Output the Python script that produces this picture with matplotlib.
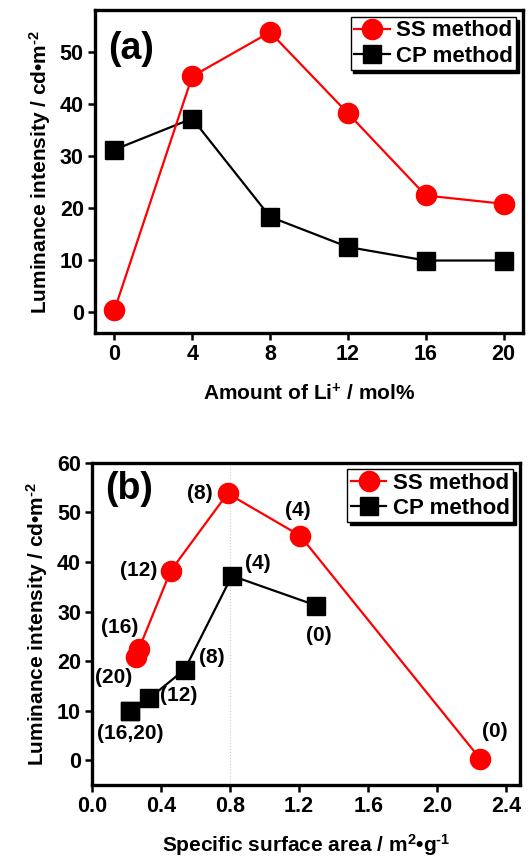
import matplotlib
matplotlib.use('Agg')
import matplotlib.pyplot as plt

plt.rcParams['font.family'] = ['Liberation Sans', 'DejaVu Sans']
plt.rcParams['font.weight'] = 'bold'
plt.rcParams['axes.labelweight'] = 'bold'
plt.rcParams['mathtext.fontset'] = 'custom'
plt.rcParams['mathtext.rm'] = 'Liberation Sans:bold'
plt.rcParams['mathtext.it'] = 'Liberation Sans:bold'
plt.rcParams['mathtext.bf'] = 'Liberation Sans:bold'
plt.rcParams['mathtext.default'] = 'bf'

# ---- data ----
li_amount = [0, 4, 8, 12, 16, 20]
ss_lum = [0.3, 45.3, 53.8, 38.2, 22.4, 20.8]
cp_lum = [31.2, 37.2, 18.3, 12.5, 9.9, 9.9]
ss_area = [2.25, 1.205, 0.785, 0.455, 0.27, 0.253]
cp_area = [1.30, 0.81, 0.536, 0.33, 0.22, 0.22]
ss_point_labels = ['(0)', '(4)', '(8)', '(12)', '(16)', '(20)']
cp_point_labels = ['(0)', '(4)', '(8)', '(12)', '(16,20)', '']
x_ticks_a = [0, 4, 8, 12, 16, 20]
y_ticks_a = [0, 10, 20, 30, 40, 50]
x_ticks_b = [0.0, 0.4, 0.8, 1.2, 1.6, 2.0, 2.4]
y_ticks_b = [0, 10, 20, 30, 40, 50, 60]

# label offsets (pixels)
ss_offsets = [(15, 27), (-2, 25), (-28, 0), (-32, 0), (-19, 22), (-22, -20)]
cp_offsets = [(2, -30), (26, 12), (27, 12), (30, 3), (0, -22), (0, 0)]

fig = plt.figure(figsize=(5.3, 8.6), dpi=100)
ax1 = fig.add_axes([0.179, 0.613, 0.808, 0.375])
ax2 = fig.add_axes([0.174, 0.087, 0.807, 0.375])

red = '#ff0000'
lw = 1.6
ms_c = 14.5
ms_s = 13

def style(ax):
    for s in ax.spines.values():
        s.set_linewidth(2.4)
    ax.tick_params(direction='out', length=5, width=1.8, labelsize=15.5, pad=3)
    for lab in ax.get_xticklabels() + ax.get_yticklabels():
        lab.set_fontweight('bold')

def legend(ax):
    leg = ax.legend(loc='upper right', fontsize=16, frameon=True, fancybox=False,
                    shadow={'color': 'black', 'alpha': 1.0},
                    handlelength=1.6, handletextpad=0.3, borderpad=0.15,
                    labelspacing=0.2, borderaxespad=0.3)
    leg.get_frame().set_edgecolor('black')
    leg.get_frame().set_linewidth(1.0)
    for t in leg.get_texts():
        t.set_fontweight('bold')

ylab = 'Luminance intensity / cd\u2022m$^{\\text{-2}}$'

# ---- panel (a) ----
ax1.plot(li_amount, ss_lum, '-o', color=red, lw=lw, ms=ms_c, label='SS method', zorder=3)
ax1.plot(li_amount, cp_lum, '-s', color='black', lw=lw, ms=ms_s, label='CP method', zorder=2)
ax1.set_xlim(-1, 21)
ax1.set_ylim(-4, 58)
ax1.set_xticks(x_ticks_a)
ax1.set_yticks(y_ticks_a)
style(ax1)
ax1.set_xlabel('Amount of Li$^{+}$ / mol%', fontsize=15, fontweight='bold', labelpad=13)
ax1.set_ylabel(ylab, fontsize=15, fontweight='bold', labelpad=5)
ax1.text(0.03, 0.935, '(a)', transform=ax1.transAxes, fontsize=27, fontweight='bold',
         ha='left', va='top')
legend(ax1)

# ---- panel (b) ----
ax2.axvline(0.8, color='#cccccc', lw=0.8, ls=':', zorder=0)
ax2.plot(ss_area, ss_lum, '-o', color=red, lw=lw, ms=ms_c, label='SS method', zorder=3)
ax2.plot(cp_area, cp_lum, '-s', color='black', lw=lw, ms=ms_s, label='CP method', zorder=2)
ax2.set_xlim(0, 2.48)
ax2.set_ylim(-5, 60)
ax2.set_xticks(x_ticks_b)
ax2.set_xticklabels(['%.1f' % v for v in x_ticks_b])
ax2.set_yticks(y_ticks_b)
style(ax2)
ax2.set_xlabel('Specific surface area / m$^{2}$\u2022g$^{\\text{-1}}$', fontsize=15, fontweight='bold', labelpad=11)
ax2.set_ylabel(ylab, fontsize=15, fontweight='bold', labelpad=5)
ax2.text(0.03, 0.975, '(b)', transform=ax2.transAxes, fontsize=27, fontweight='bold',
         ha='left', va='top')
legend(ax2)

for x, y, t, off in zip(ss_area, ss_lum, ss_point_labels, ss_offsets):
    if t:
        ax2.annotate(t, (x, y), xytext=off, textcoords='offset pixels', ha='center', va='center',
                     fontsize=15, fontweight='bold', zorder=5)
for x, y, t, off in zip(cp_area, cp_lum, cp_point_labels, cp_offsets):
    if t:
        ax2.annotate(t, (x, y), xytext=off, textcoords='offset pixels', ha='center', va='center',
                     fontsize=15, fontweight='bold', zorder=5)

fig.savefig('out.png', dpi=100)
